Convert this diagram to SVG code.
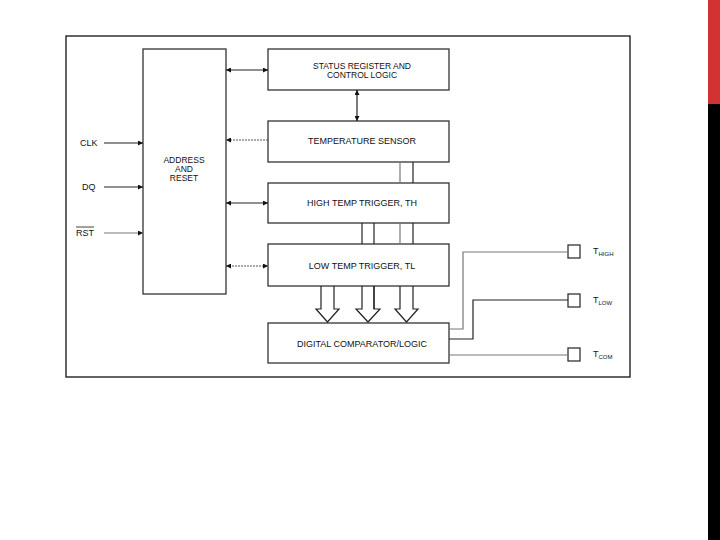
<svg xmlns="http://www.w3.org/2000/svg" width="720" height="540" viewBox="0 0 720 540">
<style>
.box{fill:#fff;stroke:#333;stroke-width:1.3}
.t{font-family:"Liberation Sans",Arial,sans-serif;font-size:9px;fill:#111;text-anchor:middle}
.t2{font-size:8.5px}
.lbl{font-family:"Liberation Sans",Arial,sans-serif;font-size:9px;fill:#111}
.sub{font-size:6px}
.ln{fill:none;stroke:#222;stroke-width:1.2}
.gr{fill:none;stroke:#777;stroke-width:1.2}
.dt{fill:none;stroke:#555;stroke-width:1.2;stroke-dasharray:2 1}
</style>
<defs>
<marker id="ah" viewBox="0 0 10 10" refX="10" refY="5" markerWidth="6" markerHeight="5" orient="auto-start-reverse" markerUnits="userSpaceOnUse">
<path d="M0,0 L10,5 L0,10 Z" fill="#111"/>
</marker>
</defs>
<rect x="0" y="0" width="720" height="540" fill="#fff"/>
<rect x="708" y="0" width="12" height="104" fill="#d23232"/>
<rect x="708" y="104" width="12" height="436" fill="#000"/>
<rect x="66" y="36" width="564" height="341" fill="none" stroke="#111" stroke-width="1.3"/>

<g id="address">
<rect class="box" x="143" y="49" width="83" height="245"/>
<text class="t t2" x="184" y="162.5">ADDRESS</text>
<text class="t t2" x="184" y="171.5">AND</text>
<text class="t t2" x="184" y="180.5">RESET</text>
</g>
<g id="status">
<rect class="box" x="268" y="49" width="181" height="41"/>
<text class="t t2" x="362" y="69">STATUS REGISTER AND</text>
<text class="t t2" x="362" y="78">CONTROL LOGIC</text>
</g>
<g id="tempsensor">
<rect class="box" x="268" y="121" width="181" height="41"/>
<text class="t" x="362" y="144">TEMPERATURE SENSOR</text>
</g>
<g id="hightemp">
<rect class="box" x="268" y="183" width="181" height="40"/>
<text class="t" x="362" y="206">HIGH TEMP TRIGGER, TH</text>
</g>
<g id="lowtemp">
<rect class="box" x="268" y="244" width="181" height="42"/>
<text class="t" x="362" y="269">LOW TEMP TRIGGER, TL</text>
</g>
<g id="comparator">
<rect class="box" x="268" y="323" width="181" height="40"/>
<text class="t" x="362" y="347">DIGITAL COMPARATOR/LOGIC</text>
</g>
<g id="thigh">
<rect class="box" x="568" y="245" width="12" height="13"/>
<text class="lbl" x="593" y="254">T<tspan class="sub" dy="2">HIGH</tspan></text>
</g>
<g id="tlow">
<rect class="box" x="568" y="294" width="12" height="13"/>
<text class="lbl" x="593" y="303">T<tspan class="sub" dy="2">LOW</tspan></text>
</g>
<g id="tcom">
<rect class="box" x="568" y="348" width="12" height="13"/>
<text class="lbl" x="593" y="357">T<tspan class="sub" dy="2">COM</tspan></text>
</g>
<g id="inputs">
<text class="lbl" x="80" y="146">CLK</text>
<text class="lbl" x="82" y="190">DQ</text>
<text class="lbl" x="76" y="236">RST</text>
<line x1="76" y1="227" x2="94" y2="227" stroke="#111" stroke-width="0.8"/>
</g>

<g id="connectors">
<line class="ln" x1="104" y1="143" x2="143" y2="143" marker-end="url(#ah)"/>
<line class="ln" x1="104" y1="187" x2="143" y2="187" marker-end="url(#ah)"/>
<line class="gr" x1="104" y1="233" x2="143" y2="233" marker-end="url(#ah)"/>
<line class="ln" x1="226" y1="70" x2="268" y2="70" marker-start="url(#ah)" marker-end="url(#ah)"/>
<line class="dt" x1="268" y1="140" x2="226" y2="140" marker-end="url(#ah)"/>
<line class="ln" x1="226" y1="203" x2="268" y2="203" stroke-width="2" marker-start="url(#ah)" marker-end="url(#ah)"/>
<line class="dt" x1="226" y1="266" x2="268" y2="266" marker-start="url(#ah)" marker-end="url(#ah)"/>
<line class="ln" x1="357" y1="90" x2="357" y2="121" marker-start="url(#ah)" marker-end="url(#ah)"/>
<line class="gr" x1="400" y1="162" x2="400" y2="183"/>
<line class="ln" x1="413" y1="162" x2="413" y2="183"/>
<line class="ln" x1="362" y1="223" x2="362" y2="244"/>
<line class="ln" x1="374" y1="223" x2="374" y2="244" stroke-width="2"/>
<line class="gr" x1="400" y1="223" x2="400" y2="244"/>
<line class="ln" x1="413" y1="223" x2="413" y2="244"/>
<path class="ln" d="M321,286 V309 H316 L327.5,322 L339,309 H334 V286"/>
<path class="ln" d="M362,286 V309 H356 L368,322 L380,309 H374 V286"/>
<line class="ln" x1="374" y1="286" x2="374" y2="309" stroke-width="2"/>
<path class="ln" d="M400,286 V309 H395 L406.5,322 L418,309 H413 V286"/>
<path class="gr" d="M449,329 H463 V252 H568"/>
<path class="ln" d="M449,339 H473 V300 H568"/>
<path class="gr" d="M449,355 H568"/>
</g>
</svg>
